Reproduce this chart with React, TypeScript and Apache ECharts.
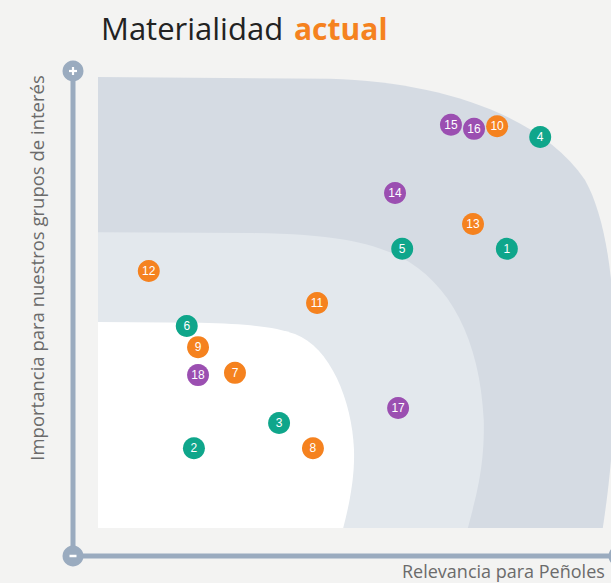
import React, { useEffect, useRef } from "react";
import * as echarts from "echarts";

// Materiality items: id, x = Relevancia para Peñoles, y = Importancia para grupos de interés (0-100 scale)
const ids = [1, 2, 3, 4, 5, 6, 7, 8, 9, 10, 11, 12, 13, 14, 15, 16, 17, 18];
const relevancia = [79.7, 18.7, 35.3, 86.2, 59.3, 17.3, 26.7, 41.9, 19.5, 77.8, 42.7, 9.9, 73.1, 57.9, 68.8, 73.3, 58.5, 19.5];
const importancia = [61.9, 17.7, 23.3, 86.7, 61.9, 44.8, 34.4, 17.7, 40.1, 89.1, 49.9, 57.0, 67.4, 74.3, 89.4, 88.5, 26.6, 33.9];
const grupo = ["a", "a", "a", "a", "a", "a", "b", "b", "b", "b", "b", "b", "b", "c", "c", "c", "c", "c"];
const groupColors: Record<string, string> = { a: "#0fa68b", b: "#f5821f", c: "#9b4fb1" };

// Background zones (in axis units)
const outerZone: (string | number)[][] = [
  ["M", 0, 0], ["L", 0, 100], ["L", 45.2, 99.6],
  ["C", 66.7, 98.9, 86.2, 91.6, 94.9, 77.2],
  ["C", 98.8, 69.4, 100.8, 55.0, 100.8, 37.3],
  ["C", 100.8, 21.7, 99.8, 10.6, 98.4, 0],
];
const middleZone: (string | number)[][] = [
  ["M", 0, 0], ["L", 0, 65.6], ["L", 29.6, 65.4],
  ["C", 45.2, 65.2, 53.0, 63.4, 58.9, 60.1],
  ["C", 68.6, 54.5, 74.5, 41.7, 75.2, 23.9],
  ["C", 75.4, 12.9, 73.5, 6.2, 72.1, 0],
];
const innerZone: (string | number)[][] = [
  ["M", 0, 0], ["L", 0, 45.7], ["L", 19.9, 45.5],
  ["C", 29.6, 45.2, 34.5, 44.6, 38.4, 43.0],
  ["C", 45.2, 40.1, 49.5, 28.4, 49.9, 17.3],
  ["C", 50.1, 10.6, 48.7, 4.0, 47.8, 0],
];

const AXIS_COLOR = "#9aabbf";

export default function App() {
  const ref = useRef<HTMLDivElement>(null);
  useEffect(() => {
    if (!ref.current) return;
    const chart = echarts.init(ref.current, null, { renderer: "svg" });

    const toPath = (api: any, segs: (string | number)[][]) => {
      let d = "";
      for (const s of segs) {
        const cmd = s[0] as string;
        const nums = s.slice(1) as number[];
        d += cmd;
        for (let i = 0; i < nums.length; i += 2) {
          const p = api.coord([nums[i], nums[i + 1]]);
          d += " " + p[0].toFixed(2) + " " + p[1].toFixed(2);
        }
        d += " ";
      }
      return d + "Z";
    };

    const makeSeries = (g: string) => ({
      type: "scatter",
      symbol: "circle",
      symbolSize: 22,
      itemStyle: { color: groupColors[g], opacity: 1 },
      label: {
        show: true,
        position: "inside",
        color: "#ffffff",
        fontSize: 12,
        fontFamily: "Liberation Sans, Arial, sans-serif",
        formatter: (p: any) => String(p.value[2]),
      },
      z: 5,
      data: ids
        .map((id, i) => ({ id, i }))
        .filter((o) => grupo[o.i] === g)
        .map((o) => [relevancia[o.i], importancia[o.i], o.id]),
    });

    chart.setOption({
      animation: false,
      backgroundColor: "#f3f3f2",
      grid: { left: 98, top: 77, width: 513, height: 451 },
      xAxis: { type: "value", min: 0, max: 100, show: false },
      yAxis: { type: "value", min: 0, max: 100, show: false },
      series: [
        {
          type: "custom",
          silent: true,
          clip: false,
          z: 1,
          data: [[0, 0]],
          renderItem: (_params: any, api: any) => ({
            type: "group",
            children: [
              { type: "path", shape: { pathData: toPath(api, outerZone) }, style: { fill: "#d5dbe3" } },
              { type: "path", shape: { pathData: toPath(api, middleZone) }, style: { fill: "#e3e8ed" } },
              { type: "path", shape: { pathData: toPath(api, innerZone) }, style: { fill: "#ffffff" } },
            ],
          }),
        },
        makeSeries("a"),
        makeSeries("b"),
        makeSeries("c"),
      ],
      graphic: [
        {
          type: "text",
          x: 101,
          y: 28,
          style: {
            text: "Materialidad",
            fontSize: 31,
            fontFamily: "Open Sans",
            fontWeight: "normal",
            fill: "#222222",
            verticalAlign: "middle",
          },
        },
        {
          type: "text",
          x: 294,
          y: 28,
          style: {
            text: "actual",
            fontSize: 30,
            fontFamily: "Open Sans",
            fontWeight: "bold",
            fill: "#f5821f",
            verticalAlign: "middle",
          },
        },
        { type: "line", shape: { x1: 73, y1: 71, x2: 73, y2: 556 }, style: { stroke: AXIS_COLOR, lineWidth: 5 } },
        { type: "line", shape: { x1: 73, y1: 556, x2: 619, y2: 556 }, style: { stroke: AXIS_COLOR, lineWidth: 5 } },
        { type: "circle", shape: { cx: 73, cy: 71, r: 10.5 }, style: { fill: AXIS_COLOR } },
        { type: "circle", shape: { cx: 73, cy: 556, r: 10.5 }, style: { fill: AXIS_COLOR } },
        { type: "circle", shape: { cx: 619, cy: 556, r: 10.5 }, style: { fill: AXIS_COLOR } },
        { type: "line", shape: { x1: 69, y1: 71, x2: 77, y2: 71 }, style: { stroke: "#ffffff", lineWidth: 2.2 } },
        { type: "line", shape: { x1: 73, y1: 67, x2: 73, y2: 75 }, style: { stroke: "#ffffff", lineWidth: 2.2 } },
        { type: "line", shape: { x1: 69.5, y1: 556, x2: 76.5, y2: 556 }, style: { stroke: "#ffffff", lineWidth: 2.5 } },
        {
          type: "text",
          x: 36,
          y: 268,
          rotation: Math.PI / 2,
          style: {
            text: "Importancia para nuestros grupos de interés",
            fontSize: 18.5,
            fontFamily: "Open Sans",
            fontWeight: "normal",
            fill: "#6b6b6b",
            align: "center",
            verticalAlign: "middle",
          },
        },
        {
          type: "text",
          x: 402,
          y: 571,
          style: {
            text: "Relevancia para Peñoles",
            fontSize: 18,
            fontFamily: "Open Sans",
            fontWeight: "normal",
            fill: "#6b6b6b",
            align: "left",
            verticalAlign: "middle",
          },
        },
      ],
    });
    return () => chart.dispose();
  }, []);
  return (
    <div
      ref={ref}
      style={{ position: "fixed", left: 0, top: 0, width: 611, height: 583, background: "#f3f3f2" }}
    />
  );
}
